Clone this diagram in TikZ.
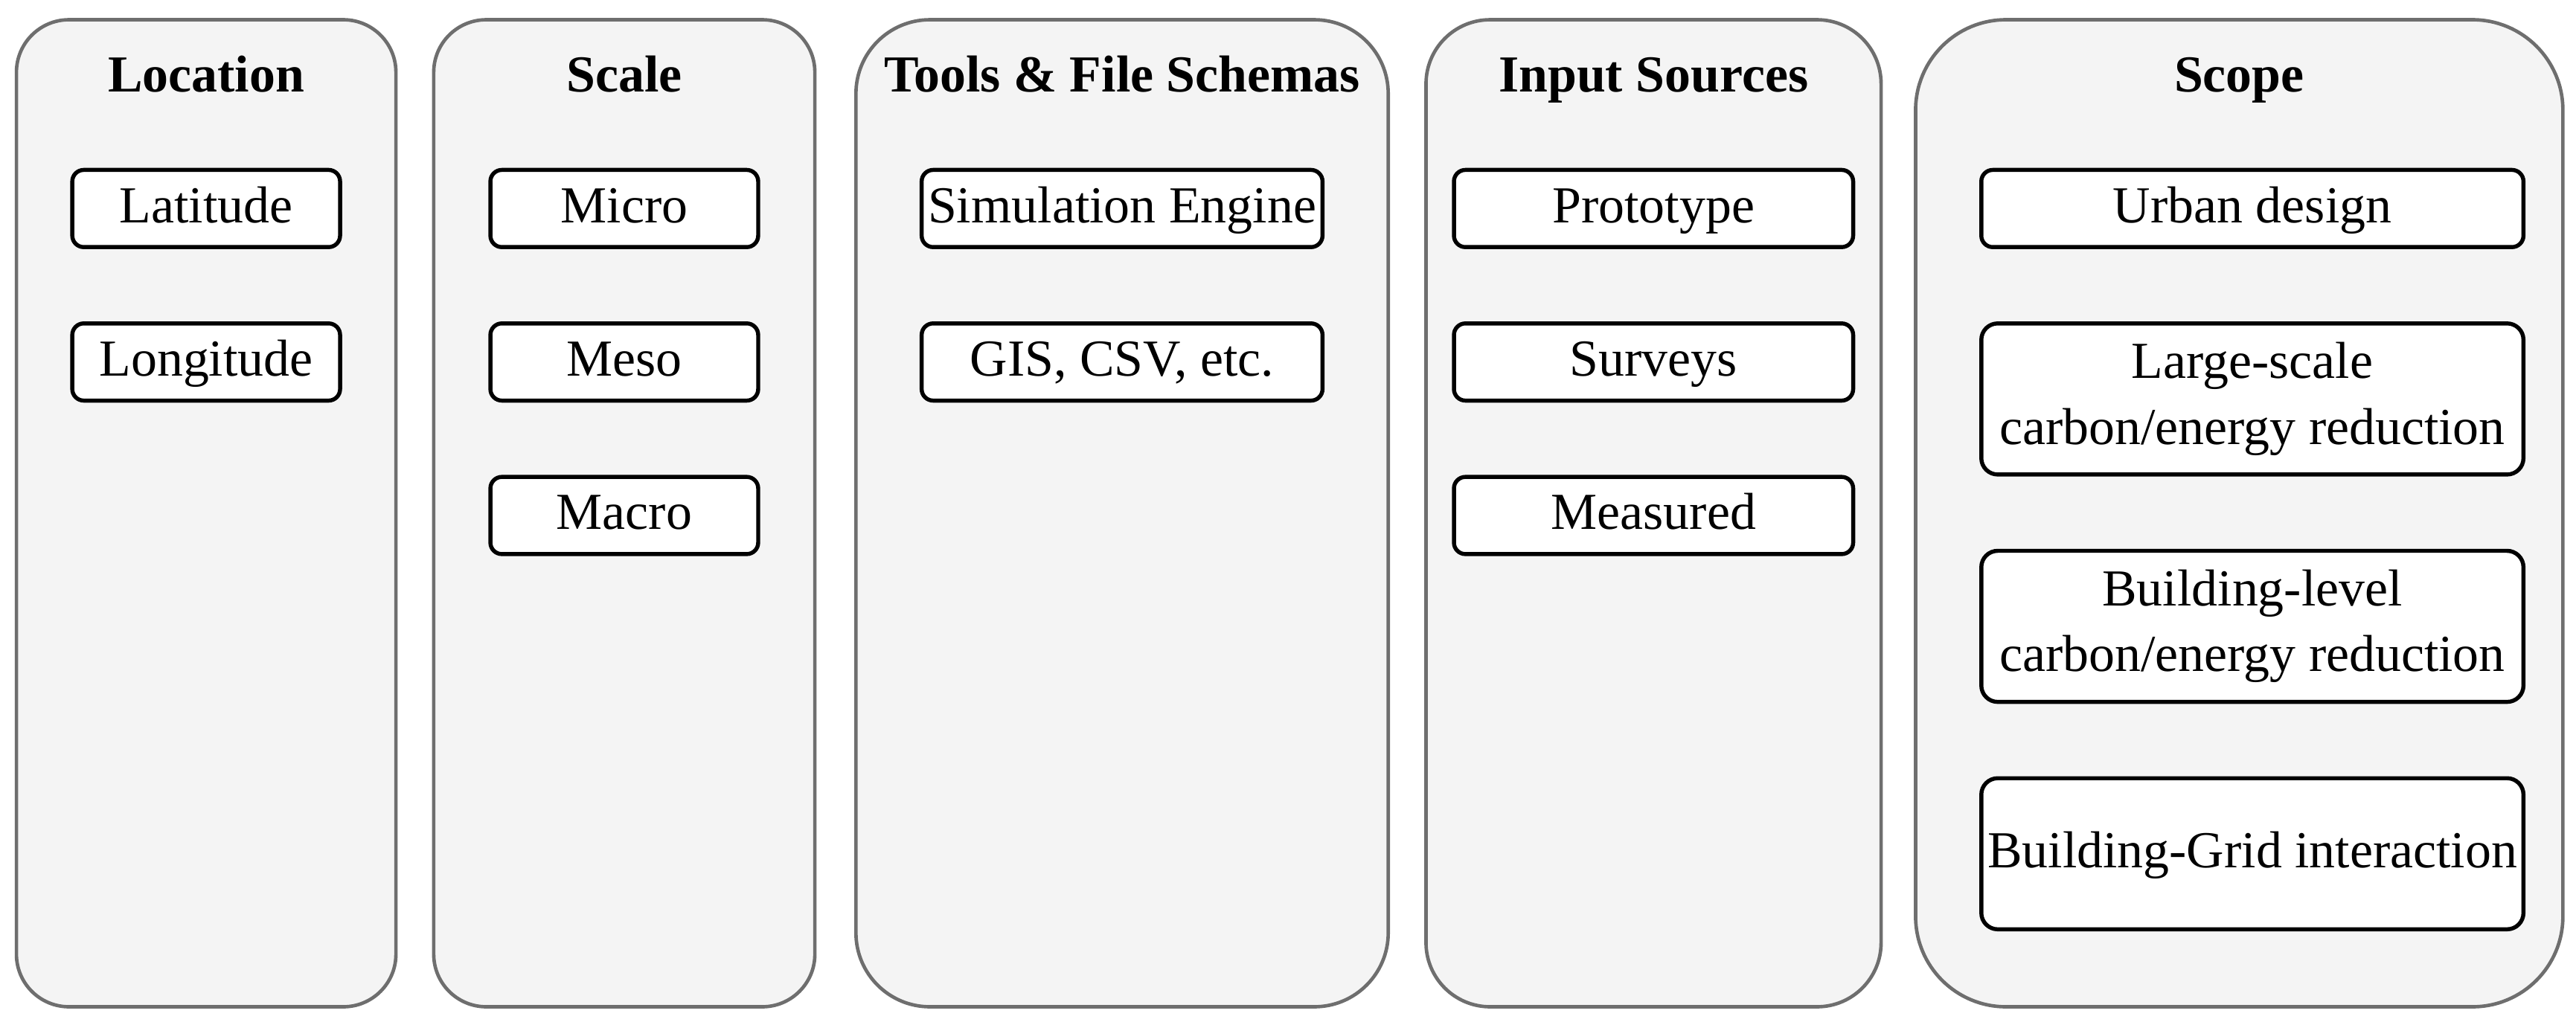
\documentclass[tikz,border=0pt]{standalone}
\usepackage{fontspec}
\setmainfont{Liberation Serif}
\usepackage{tikz}
\usetikzlibrary{positioning}
\definecolor{panelgray}{HTML}{6E6E6E}
\definecolor{panelfill}{HTML}{F4F4F4}

\begin{document}
\begin{tikzpicture}[node distance=0.44cm,
  panel node/.style={draw=panelgray,fill=panelfill,line width=0.6pt,minimum height=6.01cm},
  title node/.style={font=\fontsize{9}{11}\selectfont\bfseries,text height=1.45ex,text depth=0.45ex},
  box node/.style={draw,fill=white,rounded corners=0.07cm,line width=0.7pt,inner sep=1pt,
    minimum height=0.47cm,align=center,font=\fontsize{9}{11.4}\selectfont},
  item node/.style={box node,text height=1.5ex,text depth=0.45ex},
  tall node/.style={box node,minimum height=0.92cm,rounded corners=0.1cm}]

  \useasboundingbox (0,0) rectangle (15.68,-6.2366);

  % columns
  \node[panel node,minimum width=2.31cm,rounded corners=0.32cm] (locp) at (1.255,-3.125) {};
  \node[panel node,minimum width=2.32cm,rounded corners=0.32cm] (scap) at (3.80,-3.125) {};
  \node[panel node,minimum width=3.24cm,rounded corners=0.45cm] (toop) at (6.83,-3.125) {};
  \node[panel node,minimum width=2.77cm,rounded corners=0.39cm] (inpp) at (10.065,-3.125) {};
  \node[panel node,minimum width=3.94cm,rounded corners=0.55cm] (scop) at (13.63,-3.125) {};

  \node[title node] (loct) at ([yshift=-0.37cm]locp.north) {Location};
  \node[title node] (scat) at ([yshift=-0.37cm]scap.north) {Scale};
  \node[title node] (toot) at ([yshift=-0.37cm]toop.north) {Tools \& File Schemas};
  \node[title node] (inpt) at ([yshift=-0.37cm]inpp.north) {Input Sources};
  \node[title node] (scot) at ([yshift=-0.37cm]scop.north) {Scope};

  % location
  \node[item node,minimum width=1.63cm] (lat) at ([yshift=-1.16cm]locp.north) {Latitude};
  \node[item node,minimum width=1.63cm] (lon) [below=of lat] {Longitude};

  % scale
  \node[item node,minimum width=1.63cm] (micro) at ([yshift=-1.16cm]scap.north) {Micro};
  \node[item node,minimum width=1.63cm] (meso) [below=of micro] {Meso};
  \node[item node,minimum width=1.63cm] (macro) [below=of meso] {Macro};

  % tools
  \node[item node,minimum width=2.44cm] (sim) at ([yshift=-1.16cm]toop.north) {Simulation Engine};
  \node[item node,minimum width=2.44cm] (gis) [below=of sim] {GIS, CSV, etc.};

  % inputs
  \node[item node,minimum width=2.43cm] (proto) at ([yshift=-1.16cm]inpp.north) {Prototype};
  \node[item node,minimum width=2.43cm] (surv) [below=of proto] {Surveys};
  \node[item node,minimum width=2.43cm] (meas) [below=of surv] {Measured};

  % scope
  \node[item node,minimum width=3.30cm] (urban) at ([xshift=0.08cm,yshift=-1.16cm]scop.north) {Urban design};
  \node[tall node,minimum width=3.30cm] (large) [below=of urban] {Large-scale\\carbon/energy reduction};
  \node[tall node,minimum width=3.30cm] (bldg) [below=of large] {Building-level\\carbon/energy reduction};
  \node[item node,minimum width=3.30cm,minimum height=0.92cm,rounded corners=0.1cm] (grid) [below=of bldg] {Building-Grid interaction};
\end{tikzpicture}
\end{document}
